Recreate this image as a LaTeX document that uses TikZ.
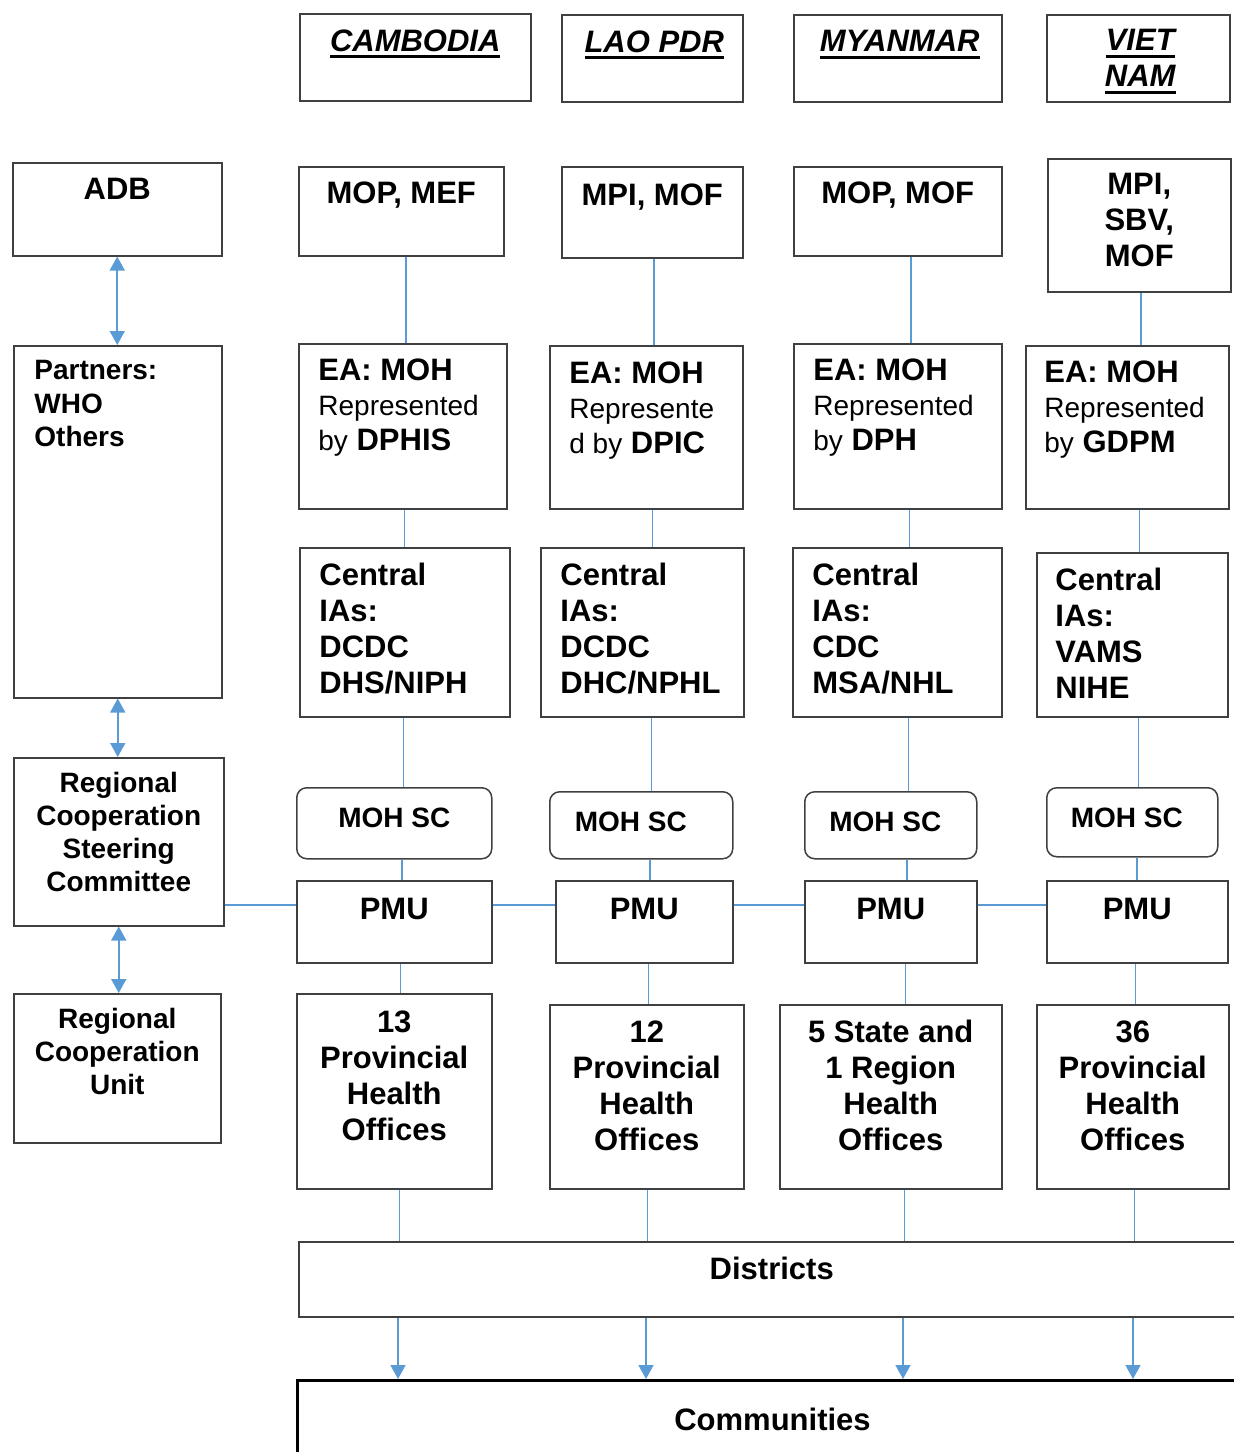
\documentclass[tikz,border=0pt]{standalone}
\usepackage{fontspec}
\setmainfont{Liberation Sans}
\usetikzlibrary{arrows.meta}
\definecolor{linkblue}{HTML}{5B9BD5}
% thick underline for the country headers
\newcommand\hdul[1]{\leavevmode\setbox0\hbox{#1}\rlap{\rule[-3.6pt]{\wd0}{1.6pt}}\box0}
\newcommand\rg{\fontsize{14}{17.5}\selectfont\mdseries}
\tikzset{
  box/.style={draw=black!75, line width=0.75pt, anchor=north west, inner sep=0pt},
  sz/.style 2 args={minimum width=#1*0.5pt, minimum height=#2*0.5pt},
  scbox/.style={box, rounded corners=5pt},
  link/.style={draw=linkblue, line width=0.8pt},
  ctr/.style={anchor=north, align=center, inner sep=0pt, yshift=-#1*0.5pt},
  lft/.style 2 args={anchor=north west, align=left, inner sep=0pt, xshift=#1*0.5pt, yshift=-#2*0.5pt},
  big/.style={font=\fontsize{15.5}{18}\selectfont\bfseries},
  sml/.style={font=\fontsize{14}{16.5}\selectfont\bfseries},
  hdr/.style={font=\fontsize{15.5}{18}\selectfont\bfseries\itshape},
  ea/.style={font=\fontsize{15.5}{17.5}\selectfont\bfseries}
}
\begin{document}
\begin{tikzpicture}[x=0.5pt, y=-0.5pt, >={Triangle[width=7.5pt,length=7pt]}]
\useasboundingbox (0,0) rectangle (1234,1452);
\clip (0,0) rectangle (1234,1452);

% country headers
\node[box, sz={231}{87}, label={[ctr=16,hdr]north:\hdul{CAMBODIA}}] (hcam) at (299,13) {};
\node[box, sz={181}{87}, label={[ctr=16,hdr,xshift=1pt]north:\hdul{LAO PDR}}] (hlao) at (561,14) {};
\node[box, sz={208}{87}, label={[ctr=16,hdr,xshift=1pt]north:\hdul{MYANMAR}}] (hmya) at (793,14) {};
\node[box, sz={183}{87}, label={[ctr=15,hdr,xshift=1pt]north:{\hdul{VIET}\\\hdul{NAM}}}] (hvie) at (1046,14) {};

% ministries
\node[box, sz={209}{93}, label={[ctr=16,big]north:ADB}] (adb) at (12,162) {};
\node[box, sz={205}{89}, label={[ctr=15,big]north:{MOP, MEF}}] (fcam) at (298,166) {};
\node[box, sz={181}{91}, label={[ctr=17,big]north:{MPI, MOF}}] (flao) at (561,166) {};
\node[box, sz={208}{89}, label={[ctr=15,big]north:{MOP, MOF}}] (fmya) at (793,166) {};
\node[box, sz={183}{133}, label={[ctr=15,big]north:{MPI,\\SBV,\\MOF}}] (fvie) at (1047,158) {};

% executing agencies
\node[box, sz={208}{352}, label={[lft={21}{15},sml,font=\fontsize{14}{16.75}\selectfont\bfseries]north west:{Partners:\\WHO\\Others}}] (partners) at (13,345) {};
\node[box, sz={208}{165}, label={[lft={20}{15},ea]north west:{EA: MOH\\{\rg Represented}\\{\rg by} DPHIS}}] (eacam) at (298,343) {};
\node[box, sz={193}{163}, label={[lft={20}{16},ea]north west:{EA: MOH\\{\rg Represente}\\{\rg d by} DPIC}}] (ealao) at (549,345) {};
\node[box, sz={208}{165}, label={[lft={20}{15},ea]north west:{EA: MOH\\{\rg Represented}\\{\rg by} DPH}}] (eamya) at (793,343) {};
\node[box, sz={203}{163}, label={[lft={19}{15},ea]north west:{EA: MOH\\{\rg Represented}\\{\rg by} GDPM}}] (eavie) at (1025,345) {};

% implementing agencies
\node[box, sz={210}{169}, label={[lft={20}{16},big]north west:{Central\\IAs:\\DCDC\\DHS/NIPH}}] (iacam) at (299,547) {};
\node[box, sz={203}{169}, label={[lft={20}{16},big]north west:{Central\\IAs:\\DCDC\\DHC/NPHL}}] (ialao) at (540,547) {};
\node[box, sz={209}{169}, label={[lft={20}{16},big]north west:{Central\\IAs:\\CDC\\MSA/NHL}}] (iamya) at (792,547) {};
\node[box, sz={191}{164}, label={[lft={19}{16},big]north west:{Central\\IAs:\\VAMS\\NIHE}}] (iavie) at (1036,552) {};

% steering committees and PMUs
\node[box, sz={210}{168}, label={[ctr=15,sml]north:{Regional\\Cooperation\\Steering\\Committee}}] (rcsc) at (13,757) {};
\node[scbox, sz={195}{71}, label={[ctr=21,sml]north:{MOH SC}}] (sccam) at (296,787) {};
\node[scbox, sz={183}{67}, label={[ctr=21,sml,xshift=-5.25pt]north:{MOH SC}}] (sclao) at (549,791) {};
\node[scbox, sz={172}{67}, label={[ctr=21,sml,xshift=-2.75pt]north:{MOH SC}}] (scmya) at (804,791) {};
\node[scbox, sz={171}{69}, label={[ctr=21,sml,xshift=-2.75pt]north:{MOH SC}}] (scvie) at (1046,787) {};
\node[box, sz={195}{82}, label={[ctr=18,big]north:PMU}] (pmucam) at (296,880) {};
\node[box, sz={177}{82}, label={[ctr=18,big]north:PMU}] (pmulao) at (555,880) {};
\node[box, sz={172}{82}, label={[ctr=18,big]north:PMU}] (pmumya) at (804,880) {};
\node[box, sz={181}{82}, label={[ctr=18,big]north:PMU}] (pmuvie) at (1046,880) {};

% provinces
\node[box, sz={207}{149}, label={[ctr=15,sml]north:{Regional\\Cooperation\\Unit}}] (rcu) at (13,993) {};
\node[box, sz={195}{195}, label={[ctr=17,big]north:{13\\Provincial\\Health\\Offices}}] (pvcam) at (296,993) {};
\node[box, sz={194}{184}, label={[ctr=16,big]north:{12\\Provincial\\Health\\Offices}}] (pvlao) at (549,1004) {};
\node[box, sz={222}{184}, label={[ctr=16,big]north:{5 State and\\1 Region\\Health\\Offices}}] (pvmya) at (779,1004) {};
\node[box, sz={192}{184}, label={[ctr=16,big]north:{36\\Provincial\\Health\\Offices}}] (pvvie) at (1036,1004) {};

\node[box, sz={946}{75}, label={[ctr=16,big]north:Districts}] (dist) at (298,1241) {};
\node[box, draw=black, line width=1.5pt, sz={950}{110}, label={[ctr=29,big]north:Communities}] (comm) at (296,1379) {};

% connectors, each column drifting slightly to the left going down
\coordinate (hub) at (0,905);
\foreach \c/\x in {cam/406,lao/654,mya/911,vie/1141}{
  \foreach \a/\b [count=\i from 0] in {f/ea,ea/ia,ia/sc,sc/pmu,pmu/pv}{
    \coordinate (lx) at ({\x-1.33*\i},0);
    \draw[link] (\a\c.south -| lx) -- (\b\c.north -| lx);
  }
  \coordinate (lx) at ({\x-6.7},0);
  \draw[link] (pv\c.south -| lx) -- (dist.north -| lx);
  \coordinate (lx) at ({\x-8},0);
  \draw[link,->] (dist.south -| lx) -- (comm.north -| lx);
}
\foreach \a/\b in {rcsc/pmucam,pmucam/pmulao,pmulao/pmumya,pmumya/pmuvie}
  \draw[link] (\a.east |- hub) -- (\b.west |- hub);
\draw[link,<->] (adb.south) -- (adb.south |- partners.north);
\draw[link,<->] (partners.south) -- (partners.south |- rcsc.north);
\draw[link,<->] (rcsc.south) -- (rcsc.south |- rcu.north);
\end{tikzpicture}
\end{document}
